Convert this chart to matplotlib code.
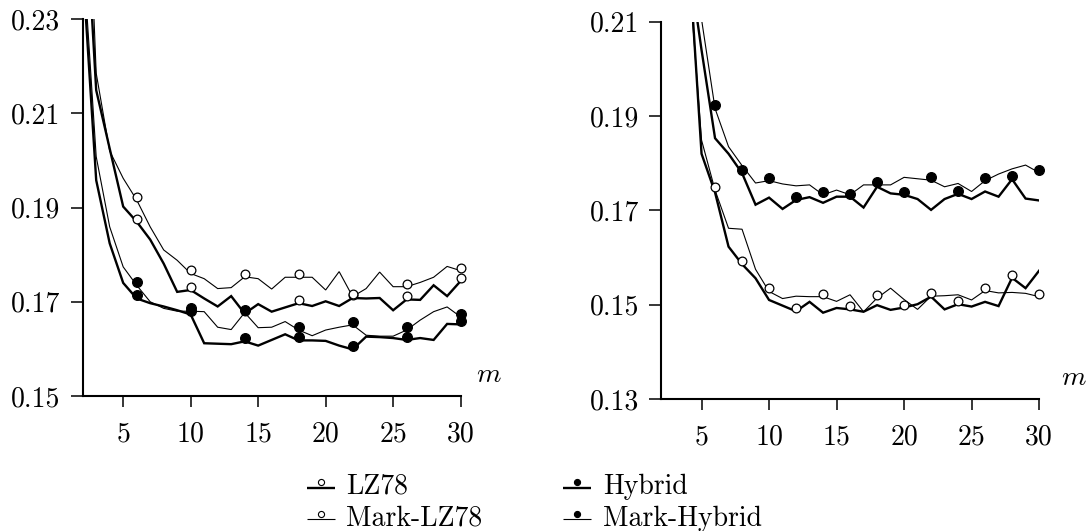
import numpy as np
import matplotlib
matplotlib.use('Agg')
import matplotlib.pyplot as plt
from matplotlib.lines import Line2D
from matplotlib.legend_handler import HandlerBase
from matplotlib.transforms import ScaledTranslation

plt.rcParams['font.family'] = ['cmr10', 'DejaVu Serif']
plt.rcParams['mathtext.fontset'] = 'cm'
plt.rcParams['axes.formatter.use_mathtext'] = True
plt.rcParams['axes.unicode_minus'] = False

# ---------------- data ----------------
m_left = list(range(2, 31))
left_lz78 = [0.265, 0.2149, 0.2025, 0.1902, 0.1870, 0.1832, 0.1781, 0.1721, 0.1725,
             0.1707, 0.1690, 0.1712, 0.1675, 0.1695, 0.1679, 0.1688, 0.1697, 0.1691,
             0.1701, 0.1691, 0.1708, 0.1707, 0.1708, 0.1682, 0.1705, 0.1704, 0.1735,
             0.1712, 0.1744]
left_mark_lz78 = [0.290, 0.2185, 0.2020, 0.1962, 0.1916, 0.1859, 0.1810, 0.1788, 0.1760,
                  0.1749, 0.1728, 0.1730, 0.1753, 0.1749, 0.1727, 0.1752, 0.1752, 0.1752,
                  0.1725, 0.1764, 0.1711, 0.1728, 0.1763, 0.1732, 0.1732, 0.1741, 0.1752,
                  0.1775, 0.1766]
left_hybrid = [0.241, 0.1958, 0.1824, 0.1740, 0.1707, 0.1697, 0.1690, 0.1682, 0.1673,
               0.1612, 0.1611, 0.1610, 0.1616, 0.1607, 0.1619, 0.1631, 0.1618, 0.1618,
               0.1617, 0.1607, 0.1599, 0.1626, 0.1625, 0.1623, 0.1619, 0.1623, 0.1619,
               0.1653, 0.1652]
left_mark_hybrid = [0.245, 0.2008, 0.1859, 0.1774, 0.1735, 0.1700, 0.1686, 0.1680, 0.1680,
                    0.1679, 0.1646, 0.1641, 0.1677, 0.1645, 0.1646, 0.1658, 0.1640, 0.1628,
                    0.1640, 0.1646, 0.1651, 0.1629, 0.1627, 0.1627, 0.1640, 0.1661, 0.1679,
                    0.1689, 0.1668]

m_right = list(range(4, 31))
right_lz78 = [0.227, 0.1820, 0.1738, 0.1623, 0.1586, 0.1556, 0.1510, 0.1498, 0.1486,
              0.1506, 0.1483, 0.1493, 0.1490, 0.1485, 0.1499, 0.1489, 0.1494, 0.1501,
              0.1517, 0.1490, 0.1501, 0.1496, 0.1506, 0.1497, 0.1557, 0.1535, 0.1572]
right_mark_lz78 = [0.223, 0.1849, 0.1743, 0.1662, 0.1660, 0.1575, 0.1528, 0.1513, 0.1518,
                   0.1517, 0.1517, 0.1507, 0.1521, 0.1485, 0.1514, 0.1535, 0.1511, 0.1490,
                   0.1518, 0.1519, 0.1521, 0.1510, 0.1530, 0.1525, 0.1526, 0.1524, 0.1517]
right_hybrid = [0.224, 0.2040, 0.1853, 0.1820, 0.1779, 0.1712, 0.1727, 0.1703, 0.1722,
                0.1728, 0.1716, 0.1729, 0.1729, 0.1706, 0.1750, 0.1736, 0.1733, 0.1724,
                0.1701, 0.1724, 0.1735, 0.1724, 0.1740, 0.1729, 0.1766, 0.1725, 0.1721]
right_mark_hybrid = [0.240, 0.2105, 0.1916, 0.1835, 0.1795, 0.1758, 0.1763, 0.1756, 0.1752,
                     0.1754, 0.1733, 0.1743, 0.1733, 0.1754, 0.1754, 0.1754, 0.1770, 0.1767,
                     0.1764, 0.1750, 0.1757, 0.1740, 0.1763, 0.1777, 0.1788, 0.1796, 0.1780]

left_marks = [6, 10, 14, 18, 22, 26, 30]
right_marks_mark = [6, 10, 14, 18, 22, 26, 30]
right_marks_plain = [8, 12, 16, 20, 24, 28]

x_ticks = [5, 10, 15, 20, 25, 30]
x_labels = ['5', '10', '15', '20', '25', '30']
left_yticks = [0.15, 0.17, 0.19, 0.21, 0.23]
left_ylabels = ['0.15', '0.17', '0.19', '0.21', '0.23']
right_yticks = [0.13, 0.15, 0.17, 0.19, 0.21]
right_ylabels = ['0.13', '0.15', '0.17', '0.19', '0.21']

labels = ['LZ78', 'Mark-LZ78', 'Hybrid', 'Mark-Hybrid']

# ---------------- style ----------------
FS = 20
THICK = 1.7
THIN = 0.8
styles = {
    'LZ78': dict(lw=THICK, mfc='white'),
    'Mark-LZ78': dict(lw=THIN, mfc='white'),
    'Hybrid': dict(lw=THICK, mfc='black'),
    'Mark-Hybrid': dict(lw=THIN, mfc='black'),
}

fig = plt.figure(figsize=(10.91, 5.31), dpi=100)
axL = fig.add_axes([0.0758, 0.2542, 0.3464, 0.7100])
axR = fig.add_axes([0.6059, 0.2486, 0.3465, 0.7105])

moff = ScaledTranslation(0, 3.0 / 100.0, fig.dpi_scale_trans)


def draw(ax, m, series, marks):
    for name, vals, mk in zip(labels, series, marks):
        st = styles[name]
        ax.plot(m, vals, color='black', lw=st['lw'], solid_joinstyle='miter',
                clip_on=True, zorder=2)
        mx = [x for x in mk]
        my = [vals[m.index(x)] for x in mk]
        ms = 6.3 if st['mfc'] == 'white' else 7.0
        ax.plot(mx, my, linestyle='none', marker='o', ms=ms, mfc=st['mfc'],
                mec='black', mew=0.9, transform=ax.transData + moff, zorder=3,
                clip_on=False)


draw(axL, m_left, [left_lz78, left_mark_lz78, left_hybrid, left_mark_hybrid],
     [left_marks] * 4)
draw(axR, m_right, [right_lz78, right_mark_lz78, right_hybrid, right_mark_hybrid],
     [right_marks_plain, right_marks_mark, right_marks_plain, right_marks_mark])

for ax, yt, yl, ylim, mx in [(axL, left_yticks, left_ylabels, (0.15, 0.23), 1.075),
                             (axR, right_yticks, right_ylabels, (0.13, 0.21), 1.093)]:
    ax.set_xlim(2, 30)
    ax.set_ylim(*ylim)
    ax.set_xticks(x_ticks, labels=x_labels)
    ax.set_yticks(yt, labels=yl)
    for s in ['top', 'right']:
        ax.spines[s].set_visible(False)
    for s in ['left', 'bottom']:
        ax.spines[s].set_linewidth(1.5)
    ax.tick_params(axis='y', direction='out', length=9, width=1.1, pad=7, labelsize=FS)
    ax.tick_params(axis='x', direction='out', length=8, width=1.1, pad=10, labelsize=FS)
    ax.text(mx, 0.056, r'$m$', transform=ax.transAxes, fontsize=FS,
            ha='center', va='center')


class RaisedMarker(HandlerBase):
    def create_artists(self, legend, orig_handle, xdescent, ydescent, width, height,
                       fontsize, trans):
        y = (height - ydescent) / 2 - 0.12 * fontsize
        x0, x1 = -xdescent, -xdescent + width
        line = Line2D([x0, x1], [y, y], color='black', lw=orig_handle.get_linewidth(),
                      solid_capstyle='butt')
        mk = Line2D([(x0 + x1) / 2], [y + 0.2 * fontsize], marker='o', ms=4.4,
                    mfc=orig_handle.get_markerfacecolor(), mec='black', mew=0.8,
                    linestyle='none')
        line.set_transform(trans)
        mk.set_transform(trans)
        return [line, mk]


handles = [Line2D([], [], color='black', lw=styles[n]['lw'], marker='o',
                  mfc=styles[n]['mfc'], mec='black') for n in labels]
fig.legend(handles, labels, ncol=2, loc='upper left',
           bbox_to_anchor=(0.2814, 0.108), frameon=False, fontsize=FS,
           borderpad=0, borderaxespad=0, handlelength=1.0, handletextpad=0.42,
           columnspacing=2.9, labelspacing=0.2,
           handler_map={Line2D: RaisedMarker()})

fig.savefig('out.png', dpi=100)
